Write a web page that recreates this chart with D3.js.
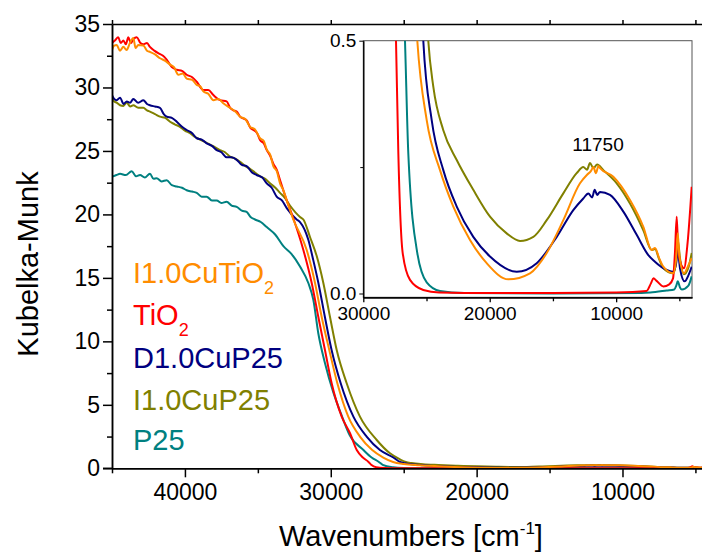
<!DOCTYPE html>
<html><head><meta charset="utf-8">
<script src="https://cdn.jsdelivr.net/npm/d3@7"></script>
<style>
body{margin:0;background:#fff}
text{font-family:"Liberation Sans", Arial, sans-serif}
</style>
</head><body>
<svg id="c" width="702" height="553"></svg>
<script>
// ---- data (wavenumber cm-1, Kubelka-Munk) ----
const seriesNames = ["I1.0CuTiO2", "TiO2", "D1.0CuP25", "I1.0CuP25", "P25"];
const seriesColors = ["#ff8c00", "#ff0000", "#000080", "#808000", "#008080"];

const dataI10CuTiO2 = [[45000,32.95],[44850,33.3],[44680,33.35],[44450,32.9],[44220,33.2],[44000,32.95],[43770,33.5],[43540,33.9],[43380,33.1],[43200,33.35],[42850,33.3],[42600,32.9],[42400,32.8],[42050,32.6],[41710,32.3],[41350,32.1],[41020,31.8],[40750,31.6],[40450,31.0],[40150,31.1],[39880,30.7],[39500,30.6],[39190,30.2],[38950,30.1],[38740,29.7],[38400,29.5],[38050,29.0],[37700,29.1],[37370,28.75],[36910,28.4],[36550,28.1],[36220,27.7],[35850,27.5],[35540,26.9],[35200,26.7],[34850,26.0],[34600,25.8],[34390,25.1],[34150,24.7],[33940,23.8],[33700,23.4],[33480,22.45],[33250,21.9],[33020,21.1],[32570,19.6],[31650,17.2],[31080,14.6],[30620,11.9],[30100,9.3],[29550,6.7],[28800,4.07],[28000,2.5],[27160,1.44],[26400,0.85],[25728,0.5],[24985,0.343],[23933,0.244],[22880,0.172],[21560,0.106],[20240,0.060],[18530,0.028],[16814,0.040],[15493,0.080],[14180,0.145],[12860,0.218],[12300,0.235],[12000,0.242],[11800,0.25],[11600,0.238],[11400,0.252],[11277,0.248],[10225,0.231],[8904,0.185],[7850,0.132],[7190,0.086],[6926,0.090],[6600,0.07],[6270,0.053],[5479,0.040],[5250,0.07],[5130,0.119],[5000,0.075],[4632,0.040],[4300,0.055],[4024,0.07]];

const dataTiO2 = [[45000,33.5],[44800,33.7],[44570,33.95],[44400,33.5],[44220,33.7],[44050,33.4],[43880,33.95],[43700,33.5],[43540,33.8],[43300,33.95],[43050,33.5],[42850,33.4],[42600,33.5],[42400,33.2],[42100,32.9],[41830,32.7],[41500,32.5],[41250,32.2],[40900,31.6],[40560,31.4],[40200,31.3],[39880,31.0],[39500,30.8],[39190,30.45],[38740,29.8],[38400,29.8],[38050,29.4],[37600,29.0],[37140,28.9],[36900,28.4],[36680,28.2],[36450,28.1],[36220,27.7],[35760,27.4],[35500,26.8],[35310,26.65],[35050,26.4],[34850,25.86],[34600,25.6],[34390,25.07],[34150,24.6],[33940,24.0],[33700,23.5],[33480,22.7],[33020,21.1],[32570,19.7],[31880,17.2],[31308,14.6],[30850,11.9],[30396,9.3],[29940,6.7],[29251,4.07],[28680,2.76],[28220,1.44],[27800,0.85],[27413,0.5],[27231,0.28],[26883,0.08],[26306,0.027],[25254,0.007],[24000,0.002],[20000,0.001],[15000,0.001],[10000,0.002],[7600,0.005],[7250,0.02],[7050,0.03],[6800,0.025],[6270,0.014],[5800,0.018],[5500,0.03],[5350,0.08],[5210,0.152],[5100,0.09],[4900,0.06],[4632,0.05],[4350,0.1],[4024,0.211]];

const dataD10CuP25 = [[45000,29.4],[44850,29.1],[44680,29.0],[44450,29.2],[44200,28.7],[43990,28.9],[43750,28.8],[43540,29.1],[43200,28.8],[42850,29.0],[42600,28.7],[42400,28.6],[42050,28.5],[41710,28.4],[41450,27.9],[41250,27.7],[40900,27.6],[40560,27.3],[40200,26.9],[39880,26.65],[39500,26.4],[39190,26.0],[38850,25.9],[38510,25.6],[38150,25.4],[37820,25.07],[37500,24.9],[37140,24.5],[36800,24.5],[36450,24.3],[36100,23.9],[35770,23.8],[35400,23.3],[35080,23.1],[34700,22.9],[34390,22.45],[34050,22.1],[33710,21.4],[33350,21.1],[33020,20.5],[32340,19.6],[32110,19.4],[31540,18.0],[31200,16.4],[30850,14.6],[30400,11.9],[29940,9.3],[29320,6.7],[28450,4.07],[27540,2.5],[26630,1.44],[25710,0.85],[25254,0.5],[24590,0.343],[23672,0.244],[22610,0.172],[21300,0.112],[19978,0.073],[17865,0.043],[16284,0.060],[14700,0.112],[13390,0.165],[12600,0.188],[12200,0.198],[11900,0.19],[11700,0.205],[11500,0.195],[11277,0.201],[10487,0.195],[9430,0.162],[8375,0.116],[7455,0.076],[6930,0.063],[6270,0.050],[5480,0.043],[5250,0.06],[5130,0.086],[4950,0.05],[4580,0.024],[4300,0.035],[4024,0.053]];

const dataI10CuP25 = [[45000,29.2],[44850,28.9],[44680,28.8],[44450,28.6],[44220,28.55],[43990,28.8],[43750,28.5],[43540,28.6],[43200,28.4],[42850,28.4],[42600,28.2],[42400,28.1],[42050,27.9],[41710,27.7],[41350,27.6],[41020,27.3],[40700,27.1],[40340,26.9],[40000,26.6],[39650,26.4],[39300,26.1],[38970,25.9],[38600,25.7],[38280,25.5],[37950,25.3],[37600,25.07],[37250,24.9],[36910,24.55],[36550,24.4],[36220,24.15],[35850,23.8],[35540,23.6],[35200,23.3],[34850,23.0],[34500,22.8],[34170,22.45],[33800,22.1],[33480,21.7],[33150,21.3],[32800,20.7],[32110,19.8],[31880,19.6],[31420,18.2],[30960,16.7],[30510,14.6],[30050,11.9],[29590,9.3],[28910,6.7],[28000,4.07],[26850,2.23],[25940,1.18],[25250,0.7],[24860,0.5],[24463,0.409],[23672,0.323],[22610,0.264],[21300,0.205],[19978,0.152],[18660,0.119],[17604,0.104],[16550,0.112],[15493,0.145],[14180,0.198],[13125,0.238],[12600,0.25],[12300,0.245],[12070,0.258],[11800,0.248],[11500,0.255],[11010,0.244],[9955,0.218],[8904,0.178],[7850,0.125],[7190,0.086],[6926,0.088],[6600,0.068],[6270,0.050],[5480,0.040],[5250,0.065],[5130,0.106],[4950,0.07],[4632,0.038],[4300,0.05],[4024,0.08]];

const dataP25 = [[45000,22.97],[44700,23.1],[44450,23.2],[44050,23.1],[43650,23.4],[43350,23.0],[43080,23.1],[42750,22.9],[42400,23.2],[42150,22.8],[41940,22.85],[41600,22.6],[41250,22.7],[40900,22.3],[40560,22.2],[40200,22.1],[39880,21.9],[39500,21.8],[39190,21.7],[38850,21.4],[38510,21.4],[38150,21.1],[37820,21.1],[37500,20.9],[37140,21.0],[36800,20.7],[36450,20.6],[36100,20.3],[35770,20.2],[35500,19.8],[35200,19.6],[34800,19.4],[34390,19.0],[33800,18.4],[33250,17.5],[32700,16.9],[32110,15.9],[31540,14.6],[31200,13.3],[30850,10.6],[30400,8.3],[29830,6.0],[29300,4.3],[28700,2.6],[27760,1.44],[27200,0.85],[26702,0.5],[26440,0.277],[25728,0.080],[24985,0.022],[23933,0.005],[22000,0.001],[15000,0.0],[8000,0.001],[7300,0.002],[6000,0.006],[5400,0.008],[5250,0.015],[5130,0.024],[4950,0.012],[4800,0.008],[4300,0.015],[4024,0.034]];

const seriesData = [dataI10CuTiO2, dataTiO2, dataD10CuP25, dataI10CuP25, dataP25];
const drawOrder = [4, 3, 2, 1, 0];

const mainXMajor = [40000, 30000, 20000, 10000];
const mainXMinor = [45000, 35000, 25000, 15000, 5000];
const mainYMajor = [0, 5, 10, 15, 20, 25, 30, 35];
const mainYMinor = [2.5, 7.5, 12.5, 17.5, 22.5, 27.5, 32.5];
const insetXMajor = [30000, 20000, 10000];
const insetXMinor = [25000, 15000, 5000];
const insetYMajor = [0, 0.5];
const insetYMinor = [0.25];
const peakLabel = {w: 11750, text: "11750"};

// ---- drawing ----
const svg = d3.select("#c");
const x = d3.scaleLinear().domain([45000, 4000]).range([112, 710]);
const y = d3.scaleLinear().domain([0, 35]).range([468.3, 24]);

svg.append("clipPath").attr("id", "mclip").append("rect")
  .attr("x", 112).attr("y", 20).attr("width", 600).attr("height", 449);

const line = d3.line().x(d => x(d[0])).y(d => y(d[1])).curve(d3.curveMonotoneX);
const gm = svg.append("g").attr("clip-path", "url(#mclip)");
drawOrder.forEach(i => {
  gm.append("path").datum(seriesData[i]).attr("d", line)
    .attr("fill", "none").attr("stroke", seriesColors[i]).attr("stroke-width", 2)
    .attr("stroke-linejoin", "round");
});

function styleAxis(g, sw, fs) {
  g.selectAll("path.domain").attr("stroke", "#000").attr("stroke-width", sw);
  g.selectAll(".tick line").attr("stroke", "#000").attr("stroke-width", sw);
  g.selectAll("text").attr("font-size", fs).attr("fill", "#000")
    .style("font-family", '"Liberation Sans", Arial, sans-serif');
}

// main axes
let g;
g = svg.append("g").attr("transform", "translate(112,0)")
  .call(d3.axisLeft(y).tickValues(mainYMajor).tickSize(9).tickPadding(3).tickSizeOuter(0).tickFormat(d3.format("d")));
styleAxis(g, 1.5, 23);
g = svg.append("g").attr("transform", "translate(112,0)")
  .call(d3.axisLeft(y).tickValues(mainYMinor).tickSize(5).tickSizeOuter(0).tickFormat(""));
styleAxis(g, 1.5, 23);

g = svg.append("g").attr("transform", "translate(0,468.3)")
  .call(d3.axisBottom(x).tickValues(mainXMajor).tickSize(9).tickPadding(6).tickSizeOuter(0).tickFormat(d3.format("d")));
styleAxis(g, 1.5, 23);
g = svg.append("g").attr("transform", "translate(0,468.3)")
  .call(d3.axisBottom(x).tickValues(mainXMinor).tickSize(5).tickSizeOuter(0).tickFormat(""));
styleAxis(g, 1.5, 23);
g = svg.append("g").attr("transform", "translate(0,24)")
  .call(d3.axisTop(x).tickValues(mainXMajor.concat(mainXMinor)).tickSize(4).tickSizeOuter(0).tickFormat(""));
styleAxis(g, 1.5, 23);
svg.append("line").attr("x1", 103).attr("x2", 112).attr("y1", 468.3).attr("y2", 468.3)
  .attr("stroke", "#000").attr("stroke-width", 1.5);

// axis titles
svg.append("text").attr("transform", "translate(38,264) rotate(-90)")
  .attr("text-anchor", "middle").attr("font-size", 29).text("Kubelka-Munk");
const xt = svg.append("text").attr("x", 411).attr("y", 546).attr("text-anchor", "middle").attr("font-size", 29);
xt.append("tspan").text("Wavenumbers [cm");
xt.append("tspan").attr("font-size", 17).attr("dy", -12).text("-1");
xt.append("tspan").attr("dy", 12).text("]");

// legend
const legendY = [283, 325, 368, 410, 450];
const legendParts = [["I1.0CuTiO", "2"], ["TiO", "2"], ["D1.0CuP25", ""], ["I1.0CuP25", ""], ["P25", ""]];
seriesNames.forEach((n, i) => {
  const t = svg.append("text").attr("x", 133).attr("y", legendY[i]).attr("font-size", 29)
    .attr("fill", seriesColors[i]);
  t.append("tspan").text(legendParts[i][0]);
  if (legendParts[i][1]) t.append("tspan").attr("font-size", 18).attr("dy", 11).text(legendParts[i][1]);
});

// ---- inset ----
const ix = d3.scaleLinear().domain([30000, 4000]).range([363.3, 692]);
const iy = d3.scaleLinear().domain([-0.0075, 0.5]).range([297.3, 40.7]);
svg.append("rect").attr("x", 363.3).attr("y", 40.7).attr("width", 692 - 363.3).attr("height", 297.3 - 40.7)
  .attr("fill", "#fff").attr("stroke", "#555").attr("stroke-width", 1);
svg.append("clipPath").attr("id", "iclip").append("rect")
  .attr("x", 363.3).attr("y", 40.7).attr("width", 692 - 363.3).attr("height", 297.3 - 40.7);
const iline = d3.line().x(d => ix(d[0])).y(d => iy(d[1])).curve(d3.curveMonotoneX);
const gi = svg.append("g").attr("clip-path", "url(#iclip)");
drawOrder.forEach(i => {
  gi.append("path").datum(seriesData[i]).attr("d", iline)
    .attr("fill", "none").attr("stroke", seriesColors[i]).attr("stroke-width", 2)
    .attr("stroke-linejoin", "round");
});
g = svg.append("g").attr("transform", "translate(363.3,0)")
  .call(d3.axisLeft(iy).tickValues(insetYMajor).tickSize(4).tickPadding(3).tickSizeOuter(0).tickFormat(d3.format(".1f")));
styleAxis(g, 1, 19);
g = svg.append("g").attr("transform", "translate(363.3,0)")
  .call(d3.axisLeft(iy).tickValues(insetYMinor).tickSize(3).tickSizeOuter(0).tickFormat(""));
styleAxis(g, 1, 19);
g = svg.append("g").attr("transform", "translate(0,297.3)")
  .call(d3.axisBottom(ix).tickValues(insetXMajor).tickSize(5).tickPadding(4).tickSizeOuter(0).tickFormat(d3.format("d")));
styleAxis(g, 1.3, 19);
g = svg.append("g").attr("transform", "translate(0,297.3)")
  .call(d3.axisBottom(ix).tickValues(insetXMinor).tickSize(4).tickSizeOuter(0).tickFormat(""));
styleAxis(g, 1.3, 19);

svg.append("text").attr("x", ix(peakLabel.w) + 4).attr("y", 151).attr("text-anchor", "middle")
  .attr("font-size", 19).text(peakLabel.text);
</script>
</body></html>
